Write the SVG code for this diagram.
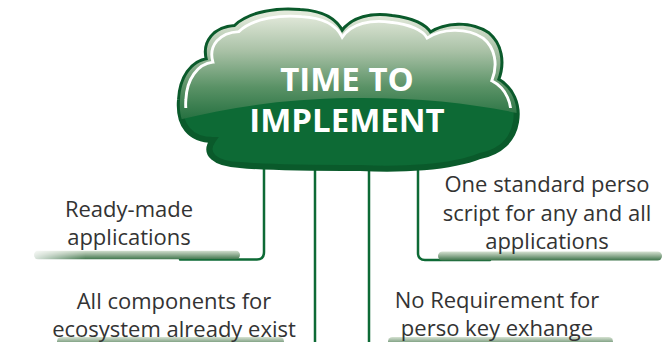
<svg xmlns="http://www.w3.org/2000/svg" width="668" height="342" viewBox="0 0 668 342">
  <style>
    .lbl { font-family: "Open Sans", "Noto Sans", "Liberation Sans", sans-serif; font-size: 22px; fill: #333333; text-anchor: middle; }
    .title { font-family: "Open Sans", "Noto Sans", "Liberation Sans", sans-serif; font-size: 33px; font-weight: bold; fill: #ffffff; text-anchor: middle; }
    .conn { fill: none; stroke: #0d6a35; stroke-width: 2.5; stroke-linecap: round; stroke-linejoin: round; }
    .bar { fill: url(#barGrad); }
  </style>
  <defs>
    <path id="cloudShape" d="M 213,140 C 190,140 178,125 180,100 C 181,78 192,62 208,60 C 203,42 215,28 235,27 C 250,12 280,9 300,11 C 320,12 335,18 342,33 C 352,18 372,14 392,17 C 412,19 426,26 430,34 C 445,24 470,22 488,34 C 500,44 504,62 497,80 C 512,88 519,105 516,122 C 513,140 500,152 480,156 C 450,168 400,170 360,168 C 320,168 270,168 240,165 C 215,164 203,154 213,140 Z"/>
    <clipPath id="cloudClip"><use href="#cloudShape"/></clipPath>
    <clipPath id="topClip"><rect x="170" y="0" width="360" height="108"/></clipPath>
    <linearGradient id="glossGrad" x1="0" y1="15" x2="0" y2="118" gradientUnits="userSpaceOnUse">
      <stop offset="0" stop-color="#e2e9da"/>
      <stop offset="0.35" stop-color="#a9c1a6"/>
      <stop offset="0.7" stop-color="#5a9266"/>
      <stop offset="1" stop-color="#287242"/>
    </linearGradient>
    <linearGradient id="barGrad" x1="0" y1="0" x2="0" y2="1">
      <stop offset="0" stop-color="#d6e2d2"/>
      <stop offset="0.45" stop-color="#94b096"/>
      <stop offset="1" stop-color="#3c7349"/>
    </linearGradient>
    <linearGradient id="fadeL" x1="0" y1="0" x2="1" y2="0">
      <stop offset="0" stop-color="#fff" stop-opacity="0.2"/>
      <stop offset="0.25" stop-color="#fff" stop-opacity="1"/>
      <stop offset="1" stop-color="#fff" stop-opacity="1"/>
    </linearGradient>
    <mask id="fadeMaskL" maskContentUnits="objectBoundingBox">
      <rect x="0" y="0" width="1" height="1" fill="url(#fadeL)"/>
    </mask>
  </defs>

  <g id="connectors">
    <path class="conn" d="M 264,160 V 252 Q 264,259.5 257,259.5 H 180"/>
    <path class="conn" d="M 315,165 V 342"/>
    <path class="conn" d="M 369,165 V 342"/>
    <path class="conn" d="M 418,160 V 253 Q 418,260 425,260 H 490"/>
  </g>

  <g id="cloud">
    <use href="#cloudShape" fill="#0d6a35" stroke="#0a5a2b" stroke-width="6"/>
    <g clip-path="url(#cloudClip)">
      <path d="M 170,0 H 530 V 116 C 480,104 420,97 350,98 C 280,99 225,108 170,122 Z" fill="url(#glossGrad)"/>
      <g clip-path="url(#topClip)">
        <use href="#cloudShape" fill="none" stroke="#ffffff" stroke-width="3" transform="translate(348 92) scale(0.965 0.93) translate(-348 -92)"/>
      </g>
    </g>
    <text class="title" x="347" y="91">TIME TO</text>
    <text class="title" x="347" y="132">IMPLEMENT</text>
  </g>

  <g id="node-ready-made">
    <rect class="bar" x="34" y="250.5" width="206" height="9" rx="4.5" mask="url(#fadeMaskL)"/>
    <text class="lbl" x="129" y="217">Ready-made</text>
    <text class="lbl" x="129" y="245">applications</text>
  </g>

  <g id="node-all-components">
    <rect class="bar" x="57" y="337" width="227" height="9" rx="4.5"/>
    <text class="lbl" x="174" y="309">All components for</text>
    <text class="lbl" x="174" y="337">ecosystem already exist</text>
  </g>

  <g id="node-perso-script">
    <rect class="bar" x="438" y="251.5" width="224" height="9" rx="4.5"/>
    <text class="lbl" x="547" y="192">One standard perso</text>
    <text class="lbl" x="547" y="221">script for any and all</text>
    <text class="lbl" x="547" y="249">applications</text>
  </g>

  <g id="node-no-requirement">
    <rect class="bar" x="388" y="337" width="225" height="9" rx="4.5"/>
    <text class="lbl" x="497" y="308">No Requirement for</text>
    <text class="lbl" x="497" y="336">perso key exhange</text>
  </g>
</svg>
